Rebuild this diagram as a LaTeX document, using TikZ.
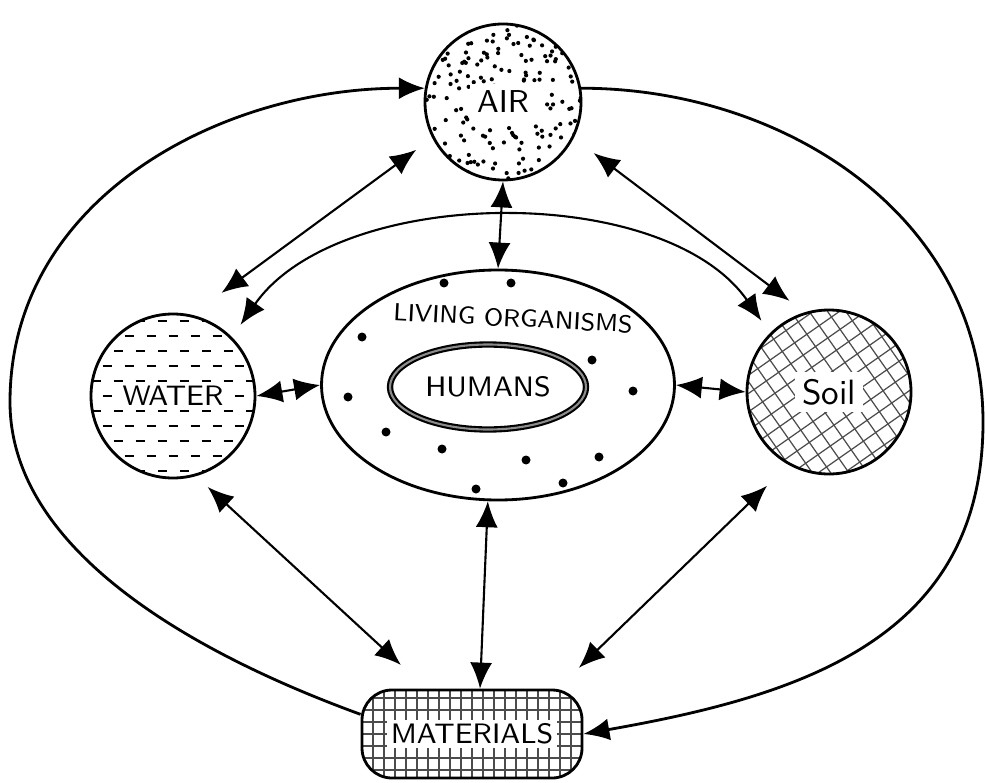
\documentclass[tikz,border=0pt]{standalone}
\usetikzlibrary{arrows.meta,shapes.geometric}

\tikzset{
  ball/.style={circle,draw,thick,minimum size=#1,inner sep=0pt},
  tag/.style={fill=white,inner sep=2pt,font=\sffamily\small},
  link/.style={<->,semithick},
  loop/.style={->,thick},
  % fillings of the four elements
  dotfill/.style={path picture={
      \foreach \k in {1,...,200}
        \fill ([shift={(rand*0.8,rand*0.8)}]path picture bounding box.center) circle (0.021);}},
  dashfill/.style={path picture={
      \foreach \r in {-5,...,5}
        \foreach \c in {-4,...,4}
          \draw[thick] ([shift={({\c*0.22+mod(\r,2)*0.11-0.045},{\r*0.15})}]path picture bounding box.center) -- ++(0.09,0);}},
  hatchfill/.style={path picture={
      \foreach \k in {-6,...,6} {
        \draw[black!70,line width=0.35pt] ([shift={(125:\k*0.15)}]path picture bounding box.center) ++(35:-1) -- ++(35:2);
        \draw[black!70,line width=0.35pt] ([shift={(35:\k*0.15)}]path picture bounding box.center) ++(125:-1) -- ++(125:2);
      }}},
  meshfill/.style={path picture={
      \begin{scope}[shift={(path picture bounding box.center)}]
        \foreach \k in {-10,...,10} \draw[black!70] (\k*0.11,-0.5) -- (\k*0.11,0.5);
        \foreach \k in {-3,...,3} \draw[black!70] (-1.2,\k*0.12) -- (1.2,\k*0.12);
      \end{scope}}},
}

\pgfmathsetseed{11}

\begin{document}
\begin{tikzpicture}[>={Latex[length=2.6mm,width=2.2mm]}]
  \fill[white] (0,0) rectangle (9.85,7.82);
  \useasboundingbox (0,0) rectangle (9.85,7.82);

  \node[ball=1.56cm,dotfill,label={[tag]center:AIR}] (air) at (5.03,6.80) {};
  \node[ball=1.64cm,dashfill,label={[tag,inner sep=1pt,font=\sffamily\footnotesize]center:WATER}] (water) at (1.73,3.86) {};
  \node[ball=1.64cm,hatchfill,label={[tag,font=\sffamily]center:Soil}] (soil) at (8.29,3.90) {};

  \node[ellipse,draw,thick,minimum width=3.53cm,minimum height=2.30cm] (living) at (4.98,3.97) {};
  \node[font=\sffamily\scriptsize,rotate=-3] (livtxt) at (5.13,4.64) {LIVING ORGANISMS};
  \node[ellipse,draw=black,double=black!45,double distance=0.6pt,line width=0.6pt,
        minimum width=1.96cm,minimum height=0.85cm,
        inner sep=0pt,font=\sffamily\footnotesize] (humans) at (4.88,3.95) {HUMANS};
  \foreach \x/\y in {4.44/4.99, 5.11/4.99, 3.62/4.45, 5.92/4.22, 3.48/3.85, 6.33/3.91,
                     3.86/3.50, 4.42/3.33, 5.26/3.22, 5.99/3.25, 4.76/2.93, 5.63/2.99}
    \fill (\x,\y) circle (0.045);

  \node[draw,thick,rounded corners=0.3cm,minimum width=2.2cm,minimum height=0.88cm,meshfill,
        label={[tag,inner sep=1pt,font=\sffamily\footnotesize]center:MATERIALS}] (mat) at (4.72,0.48) {};

  % outer loops
  \coordinate (lft) at (0.10,3.80);
  \coordinate (rgt) at (9.83,3.60);
  \draw[loop] (mat.170) to[out=160,in=-90,looseness=0.85] (lft) to[out=90,in=180] (air.170);
  \draw[loop] (air.10) to[out=0,in=90] (rgt) to[out=-90,in=10,looseness=1.1] (mat.east);

  % inner arc water - soil
  \draw[link,shorten <=1.5mm,shorten >=1.5mm] (water.45) to[out=55,in=125,looseness=0.88] (soil.135);

  \draw[link,shorten <=2mm,shorten >=3.7mm] (air.207) -- (water.77);
  \draw[link,shorten <=2.5mm,shorten >=1.9mm] (air.-27) -- (soil.107);
  \draw[link] (air.south) -- (living.north);
  \draw[link] (water.east) -- (living.west);
  \draw[link] (living.east) -- (soil.west);
  \draw[link,shorten <=1.6mm,shorten >=3.5mm] (water.-74) -- (mat.135);
  \draw[link,shorten <=3mm,shorten >=3mm] (soil.241) -- (mat.28);
  \draw[link] (living.265) -- (mat.80);
\end{tikzpicture}
\end{document}
